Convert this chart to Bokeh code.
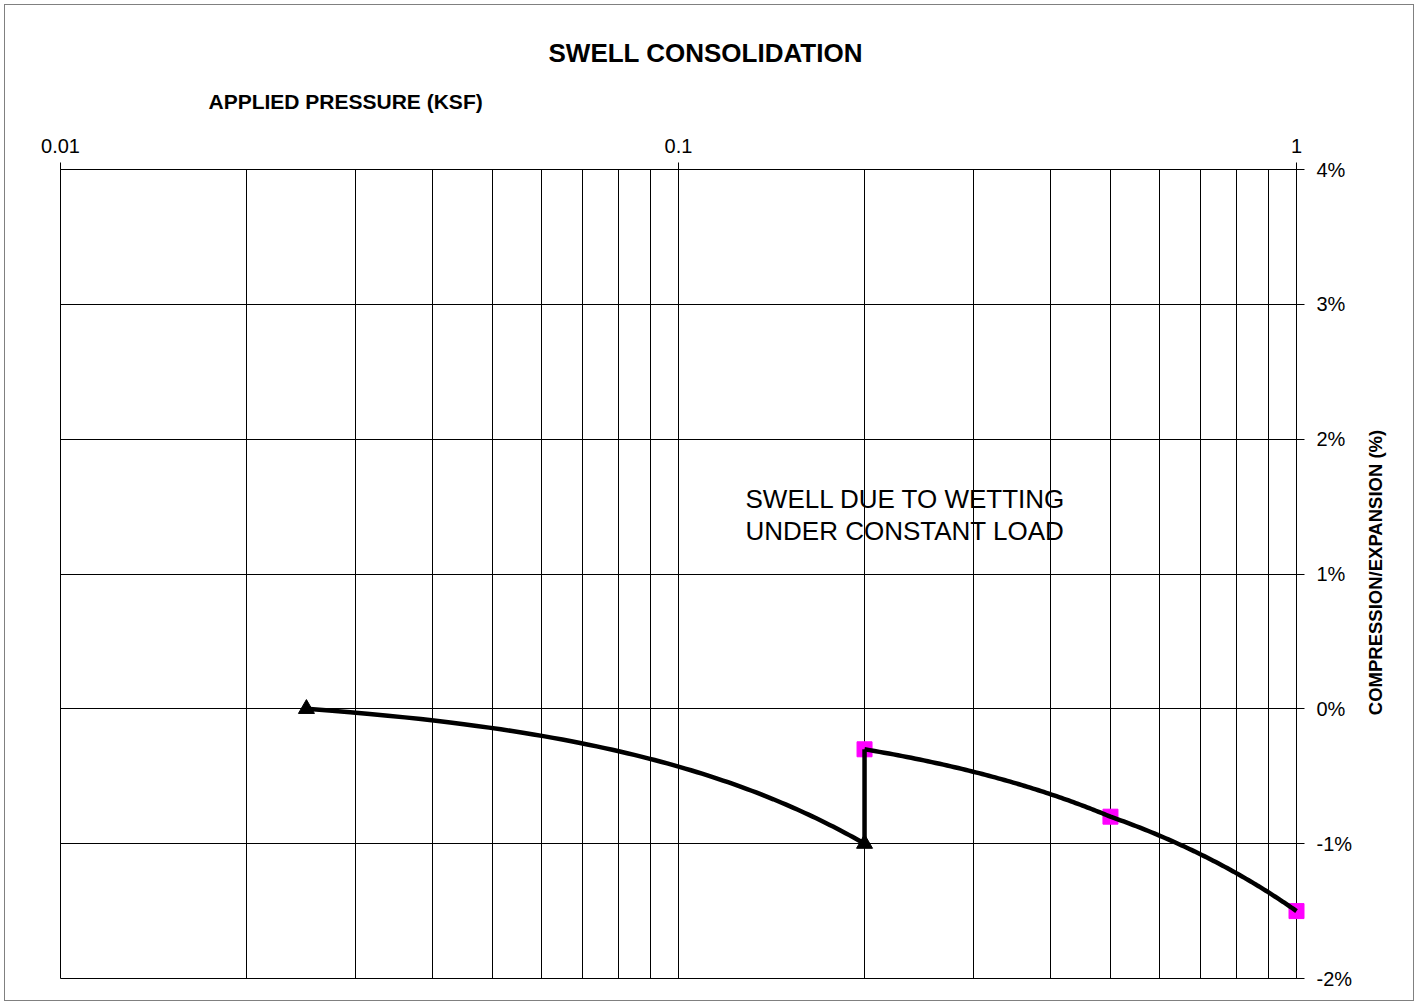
import numpy as np
from bokeh.plotting import figure
from bokeh.models import (FixedTicker, CustomJSTickFormatter, PrintfTickFormatter,
                          Label, Range1d, Title, InlineStyleSheet)
from bokeh.core.properties import value
from bokeh.embed import file_html
from bokeh.resources import INLINE

# ---------------- data ----------------
pressure_before = [0.025, 0.2]          # ksf, before wetting (triangles)
strain_before = [0.0, -1.0]             # %
pressure_wetting = [0.2, 0.2]           # swell on wetting under constant load
strain_wetting = [-1.0, -0.3]
pressure_after = [0.2, 0.5, 1.0]        # ksf, after wetting (squares)
strain_after = [-0.3, -0.8, -1.5]       # %

x_major_ticks = [0.01, 0.1, 1]
x_minor_ticks = [0.02, 0.03, 0.04, 0.05, 0.06, 0.07, 0.08, 0.09,
                 0.2, 0.3, 0.4, 0.5, 0.6, 0.7, 0.8, 0.9]
y_ticks = [-2, -1, 0, 1, 2, 3, 4]

title_text = "SWELL CONSOLIDATION"
x_title = "APPLIED PRESSURE (KSF)"
y_title = "COMPRESSION/EXPANSION (%)"
note_lines = ["SWELL DUE TO WETTING", "UNDER CONSTANT LOAD"]

FONT = "Liberation Sans"

# ---------------- layout (canvas pixels) ----------------
W, H = 1417, 1004
FRAME_L, FRAME_R, FRAME_T, FRAME_B = 60, 1296, 169, 978
X_RANGE = (0.01, 1.0)
Y_RANGE = (-2.0, 4.0)


def canvas_to_data(cx, cy):
    """Map a canvas pixel position to data coordinates of this log/linear frame."""
    lx0, lx1 = np.log10(X_RANGE[0]), np.log10(X_RANGE[1])
    fx = (cx - FRAME_L) / (FRAME_R - FRAME_L)
    fy = (FRAME_B - cy) / (FRAME_B - FRAME_T)
    return 10 ** (lx0 + fx * (lx1 - lx0)), Y_RANGE[0] + fy * (Y_RANGE[1] - Y_RANGE[0])


def straight_in_linear_space(xs, ys, n=80):
    """Path of straight segments (in linear pressure) between the data points,
    as they appear once plotted on a log pressure axis."""
    px, py = [], []
    for i in range(len(xs) - 1):
        t = np.linspace(0.0, 1.0, n)
        px.extend(xs[i] + (xs[i + 1] - xs[i]) * t)
        py.extend(ys[i] + (ys[i + 1] - ys[i]) * t)
    return px, py


p = figure(width=W, height=H, x_axis_type="log",
           x_range=Range1d(*X_RANGE), y_range=Range1d(*Y_RANGE),
           x_axis_location="above", y_axis_location="right",
           output_backend="svg", toolbar_location=None,
           min_border_left=FRAME_L, min_border_right=W - FRAME_R,
           min_border_top=FRAME_T, min_border_bottom=H - FRAME_B)
p.background_fill_color = "white"
p.border_fill_color = "white"
p.outline_line_color = "black"
p.outline_line_width = 1
p.stylesheets = [InlineStyleSheet(css=(
    ":host::after{content:'';position:absolute;left:4px;top:4px;right:3px;"
    "bottom:3px;border:1px solid #808080;pointer-events:none;z-index:10;}"))]

# axes
xa = p.xaxis[0]
xa.ticker = FixedTicker(ticks=x_major_ticks, minor_ticks=x_minor_ticks)
xa.formatter = CustomJSTickFormatter(code="return tick.toString();")
xa.major_tick_out = 7
xa.major_tick_in = 0
xa.minor_tick_out = 0
xa.minor_tick_in = 0
xa.major_label_standoff = 10
xa.major_label_text_font = FONT
xa.major_label_text_font_size = "20px"
xa.major_label_text_color = "black"
xa.axis_line_color = "black"
xa.major_tick_line_color = "black"

ya = p.yaxis[0]
ya.ticker = FixedTicker(ticks=y_ticks)
ya.formatter = PrintfTickFormatter(format="%d%%")
ya.major_tick_out = 8
ya.major_tick_in = 0
ya.minor_tick_out = 0
ya.minor_tick_in = 0
ya.major_label_standoff = 12
ya.major_label_text_font = FONT
ya.major_label_text_font_size = "20px"
ya.major_label_text_color = "black"
ya.axis_line_color = "black"
ya.major_tick_line_color = "black"

# grid
p.xgrid.grid_line_color = "black"
p.xgrid.grid_line_width = 1
p.xgrid.minor_grid_line_color = "black"
p.xgrid.minor_grid_line_width = 1
p.ygrid.grid_line_color = "black"
p.ygrid.grid_line_width = 1

# markers (overlay level so the marker at the frame edge is not cut)
p.scatter(pressure_before, strain_before, marker="triangle", size=16,
          fill_color="black", line_color="black", level="overlay")
p.scatter(pressure_after, strain_after, marker="square", size=15,
          fill_color="#FF00FF", line_color="#FF00FF", level="overlay")

# lines (drawn on top of the markers)
bx, by = straight_in_linear_space(pressure_before, strain_before)
p.line(bx, by, line_color="black", line_width=4.5, level="overlay")
p.line(pressure_wetting, strain_wetting, line_color="black", line_width=4.5,
       level="overlay")
ax_, ay_ = straight_in_linear_space(pressure_after, strain_after)
p.line(ax_, ay_, line_color="black", line_width=4.5, level="overlay")

# titles above the top axis
p.add_layout(Title(text=x_title, align="left", offset=148, standoff=46,
                   text_font=FONT, text_font_size="21px",
                   text_font_style="bold", text_color="black"), "above")
p.add_layout(Title(text=title_text, align="left", offset=488, standoff=-6,
                   text_font=FONT, text_font_size="26px",
                   text_font_style="bold", text_color="black"), "above")

# vertical axis title on the right, reading bottom-to-top
yt_x, yt_y = canvas_to_data(1375, 572)
p.text(x=[yt_x], y=[yt_y], text=[y_title], angle=np.pi / 2,
       text_align="center", text_baseline="middle",
       text_font=value(FONT), text_font_size="18.5px",
       text_font_style="bold", text_color="black", level="overlay")

# in-plot note
for i, line in enumerate(note_lines):
    p.add_layout(Label(x=745, y=498 + 32 * i, x_units="canvas", y_units="canvas",
                       text=line, text_font=FONT, text_font_size="26px",
                       text_align="left", text_baseline="middle",
                       text_color="black"))

open("out.html", "w").write(file_html(p, INLINE))
